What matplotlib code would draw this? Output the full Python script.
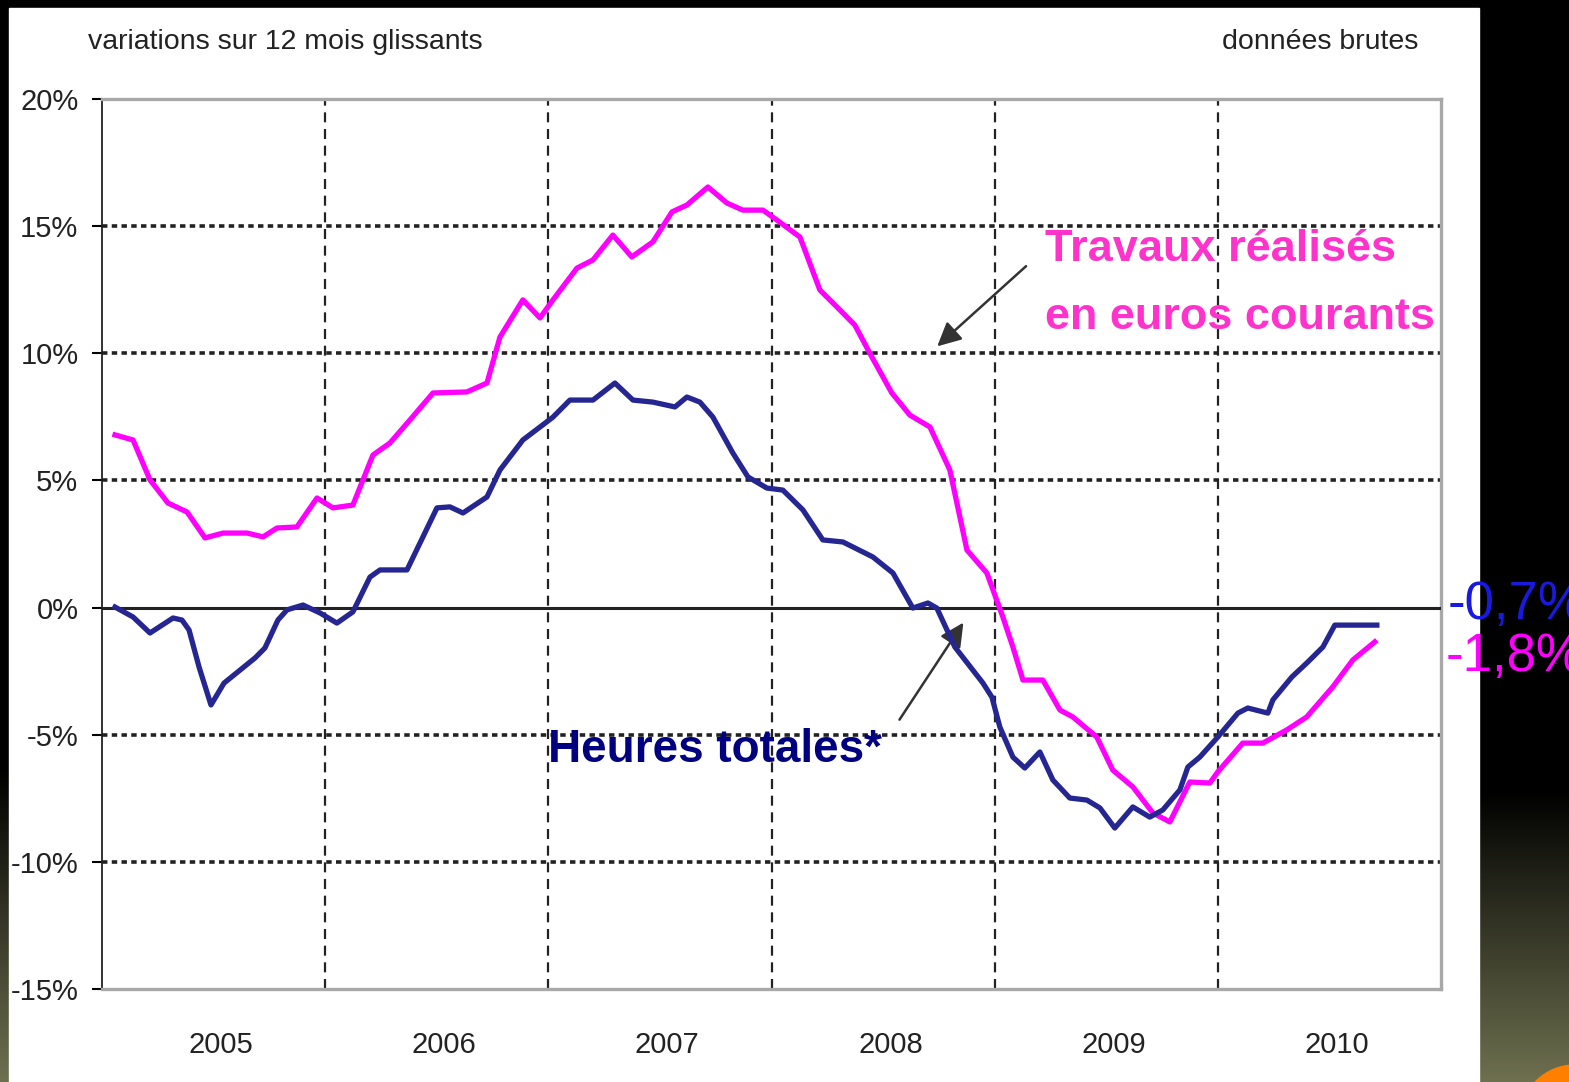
import matplotlib
matplotlib.use('Agg')
import matplotlib.pyplot as plt
import numpy as np
from matplotlib.patches import Rectangle, Circle

# months counted from Jan 2005 (0 = start of 2005)
travaux_mois = [0.70, 1.67, 2.58, 3.55, 4.57, 5.54, 6.51, 7.80, 8.66, 9.41, 10.48, 11.56,
                12.42, 13.49, 14.57, 15.48, 16.56, 17.80, 19.62, 20.70, 21.40, 22.63, 23.55,
                24.25, 25.54, 26.40, 27.47, 28.49, 29.62, 30.65, 31.45, 32.58, 33.60, 34.46,
                35.54, 36.29, 37.53, 38.60, 39.52, 40.48, 41.40, 42.47, 43.44, 44.52, 45.59,
                46.51, 47.58, 48.44, 48.98, 49.52, 50.59, 51.51, 52.20, 53.49, 54.35, 55.43,
                56.51, 57.42, 58.49, 59.57, 60.00, 61.34, 62.42, 63.71, 64.78, 66.18, 67.26,
                68.44]
travaux_val = [6.79, 6.59, 5.02, 4.11, 3.76, 2.74, 2.93, 2.93, 2.78, 3.13, 3.17, 4.31,
               3.92, 4.03, 6.00, 6.47, 7.38, 8.44, 8.48, 8.83, 10.64, 12.10, 11.39,
               12.10, 13.35, 13.67, 14.65, 13.79, 14.38, 15.56, 15.83, 16.54, 15.91, 15.63,
               15.63, 15.24, 14.57, 12.49, 11.82, 11.11, 9.85, 8.44, 7.57, 7.10, 5.41,
               2.26, 1.36, -0.37, -1.55, -2.85, -2.85, -4.03, -4.30, -5.09, -6.39, -7.05,
               -8.08, -8.43, -6.86, -6.90, -6.46, -5.33, -5.33, -4.81, -4.30, -3.12, -2.06,
               -1.35]

heures_mois = [0.70, 1.67, 2.58, 3.82, 4.30, 4.68, 5.22, 5.86, 6.56, 8.23, 8.76, 9.46,
               9.95, 10.81, 11.72, 12.63, 13.49, 14.41, 14.95, 16.40, 17.10, 18.01, 18.71,
               19.41, 20.70, 21.40, 22.63, 23.55, 24.25, 25.16, 26.40, 27.58, 28.55, 29.62,
               30.81, 31.45, 32.15, 32.85, 33.92, 34.73, 35.75, 36.61, 37.69, 38.76, 39.84,
               41.45, 42.53, 43.60, 44.41, 44.89, 45.86, 47.37, 47.85, 48.28, 48.98, 49.62,
               50.43, 51.13, 52.04, 52.96, 53.66, 54.46, 55.43, 56.34, 57.04, 57.96, 58.39,
               59.03, 60.00, 61.08, 61.61, 62.69, 62.96, 63.98, 64.84, 65.65, 66.29, 68.55]
heures_val = [0.02, -0.37, -1.00, -0.41, -0.49, -0.88, -2.34, -3.83, -2.97, -1.98, -1.59, -0.49,
              -0.09, 0.10, -0.21, -0.61, -0.17, 1.20, 1.48, 1.48, 2.54, 3.92, 3.96,
              3.72, 4.35, 5.41, 6.59, 7.10, 7.49, 8.16, 8.16, 8.83, 8.16, 8.08,
              7.89, 8.28, 8.08, 7.49, 6.08, 5.14, 4.70, 4.62, 3.84, 2.66, 2.58,
              1.99, 1.36, -0.02, 0.18, -0.02, -1.55, -2.97, -3.52, -4.70, -5.88, -6.31,
              -5.68, -6.78, -7.49, -7.57, -7.88, -8.67, -7.84, -8.24, -7.96, -7.17, -6.27,
              -5.88, -5.09, -4.15, -3.95, -4.15, -3.63, -2.73, -2.14, -1.55, -0.69, -0.69]

annees = ['2005', '2006', '2007', '2008', '2009', '2010']
yticks = [-15, -10, -5, 0, 5, 10, 15, 20]

FONT = ['Liberation Sans', 'DejaVu Sans']

fig = plt.figure(figsize=(15.69, 10.82), dpi=100)
fig.patch.set_facecolor('black')

# background: black frame, olive gradients, white panel
bg = fig.add_axes([0, 0, 1, 1])
grad = np.linspace(0, 1, 200).reshape(-1, 1)
olive = np.array([0.43, 0.44, 0.31])
img = grad[..., None] * olive[None, None, :]
bg.imshow(img, extent=[1479, 1569, 1082, 790], aspect='auto')
bg.imshow(img, extent=[0, 10, 1082, 770], aspect='auto')
bg.add_patch(Circle((1575, 1120), 55, color='#ff7f00'))
bg.add_patch(Rectangle((9, 8), 1470, 1080, color='white'))
bg.set_xlim(0, 1569)
bg.set_ylim(1082, 0)
bg.axis('off')

ax = fig.add_axes([102 / 1569, 1 - 989 / 1082, (1441 - 102) / 1569, (989 - 99) / 1082])
ax.set_facecolor('white')

ax.plot(travaux_mois, travaux_val, color='#ff00ff', lw=3.8, zorder=4, solid_joinstyle='round')
ax.plot(heures_mois, heures_val, color='#262692', lw=3.8, zorder=4, solid_joinstyle='round')

ax.set_xlim(0, 72)
ax.set_ylim(-15, 20)

# grid
for y in yticks:
    if y in (-15, 20):
        continue
    if y == 0:
        ax.axhline(0, color='#222222', lw=2.2, zorder=3)
    else:
        ax.axhline(y, color='#222222', lw=2.6, ls=(0, (1.5, 1.2)), zorder=2)
for m in range(12, 72, 12):
    ax.axvline(m, color='#222222', lw=1.6, ls=(0, (4.5, 3)), zorder=2)

ax.set_yticks(yticks)
ax.set_yticklabels([f'{v}%' for v in yticks], fontsize=21, family=FONT, color='#222222')
ax.set_xticks([12 * i + 6.4 for i in range(6)])
ax.set_xticklabels(annees, fontsize=21, family=FONT, color='#222222')
ax.tick_params(axis='y', length=7, width=1.5, pad=10)
ax.tick_params(axis='x', length=0, pad=30)

for s in ('top', 'right', 'bottom'):
    ax.spines[s].set_color('#a8a8a8')
    ax.spines[s].set_linewidth(2.4)
ax.spines['left'].set_color('#222222')
ax.spines['left'].set_linewidth(1.3)

# labels
ax.text(50.7, 14.1, 'Travaux réalisés', color='#ff33cc', fontsize=32.5, fontweight='bold',
        family=FONT, va='center', ha='left', zorder=5)
ax.text(50.7, 11.4, 'en euros courants', color='#ff33cc', fontsize=32.5, fontweight='bold',
        family=FONT, va='center', ha='left', zorder=5)
ax.annotate('', xy=(44.8, 10.2), xytext=(49.8, 13.5),
            arrowprops=dict(arrowstyle='-|>', color='#333333', lw=1.8, mutation_scale=36))

ax.text(24.0, -5.6, 'Heures totales*', color='#000080', fontsize=33, fontweight='bold',
        family=FONT, va='center', ha='left', zorder=5)
ax.annotate('', xy=(46.4, -0.5), xytext=(42.8, -4.5),
            arrowprops=dict(arrowstyle='-|>', color='#333333', lw=1.8, mutation_scale=36))

fig.text(88 / 1569, 1 - 42 / 1082, 'variations sur 12 mois glissants', fontsize=20.5,
         family=FONT, color='#222222', va='center', ha='left')
fig.text(1418 / 1569, 1 - 42 / 1082, 'données brutes', fontsize=20.5,
         family=FONT, color='#222222', va='center', ha='right')

fig.text(1448 / 1569, 1 - 605 / 1082, '-0,7%', fontsize=38, family=FONT,
         color='#1a1adc', va='center', ha='left')
fig.text(1446 / 1569, 1 - 657 / 1082, '-1,8%', fontsize=38, family=FONT,
         color='#ff00ff', va='center', ha='left')

fig.savefig('out.png', dpi=100, facecolor=fig.get_facecolor())
